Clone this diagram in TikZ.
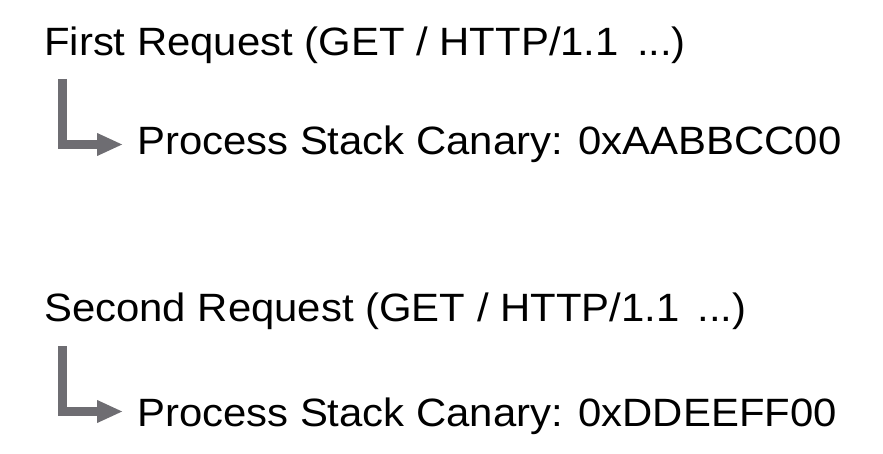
\documentclass[tikz,border=0pt]{standalone}
\usepackage{fontspec}
\setmainfont{Liberation Sans}[FakeStretch=1.06]
\usetikzlibrary{arrows.meta}
\definecolor{arrgray}{HTML}{6E6D72}
\begin{document}
\begin{tikzpicture}[x=1pt,y=1pt,
  lbl/.style={anchor=base west,inner sep=0pt,font=\fontsize{39.5}{44}\selectfont,text=black},
  elbow/.style={draw=arrgray,line width=9pt,line cap=butt,line join=miter,
    -{Triangle[length=26pt,width=21pt]}}]
\useasboundingbox (0,0) rectangle (883,-454);
\node[lbl] (r1) at (44,-56) {First Request (GET / HTTP/1.1 \,...)};
\node[lbl] (p1) at (137,-155) {Process Stack Canary: 0xAABBCC00};
\node[lbl] (r2) at (44,-321) {Second Request (GET / HTTP/1.1 \,...)};
\node[lbl] (p2) at (137,-426) {Process Stack Canary: 0xDDEEFF00};
\coordinate (s1) at (62.5,-79);
\coordinate (t1) at (123,-144.5);
\coordinate (s2) at (62.5,-346);
\coordinate (t2) at (123,-411.5);
\draw[elbow] (s1) |- (t1);
\draw[elbow] (s2) |- (t2);
\end{tikzpicture}
\end{document}
